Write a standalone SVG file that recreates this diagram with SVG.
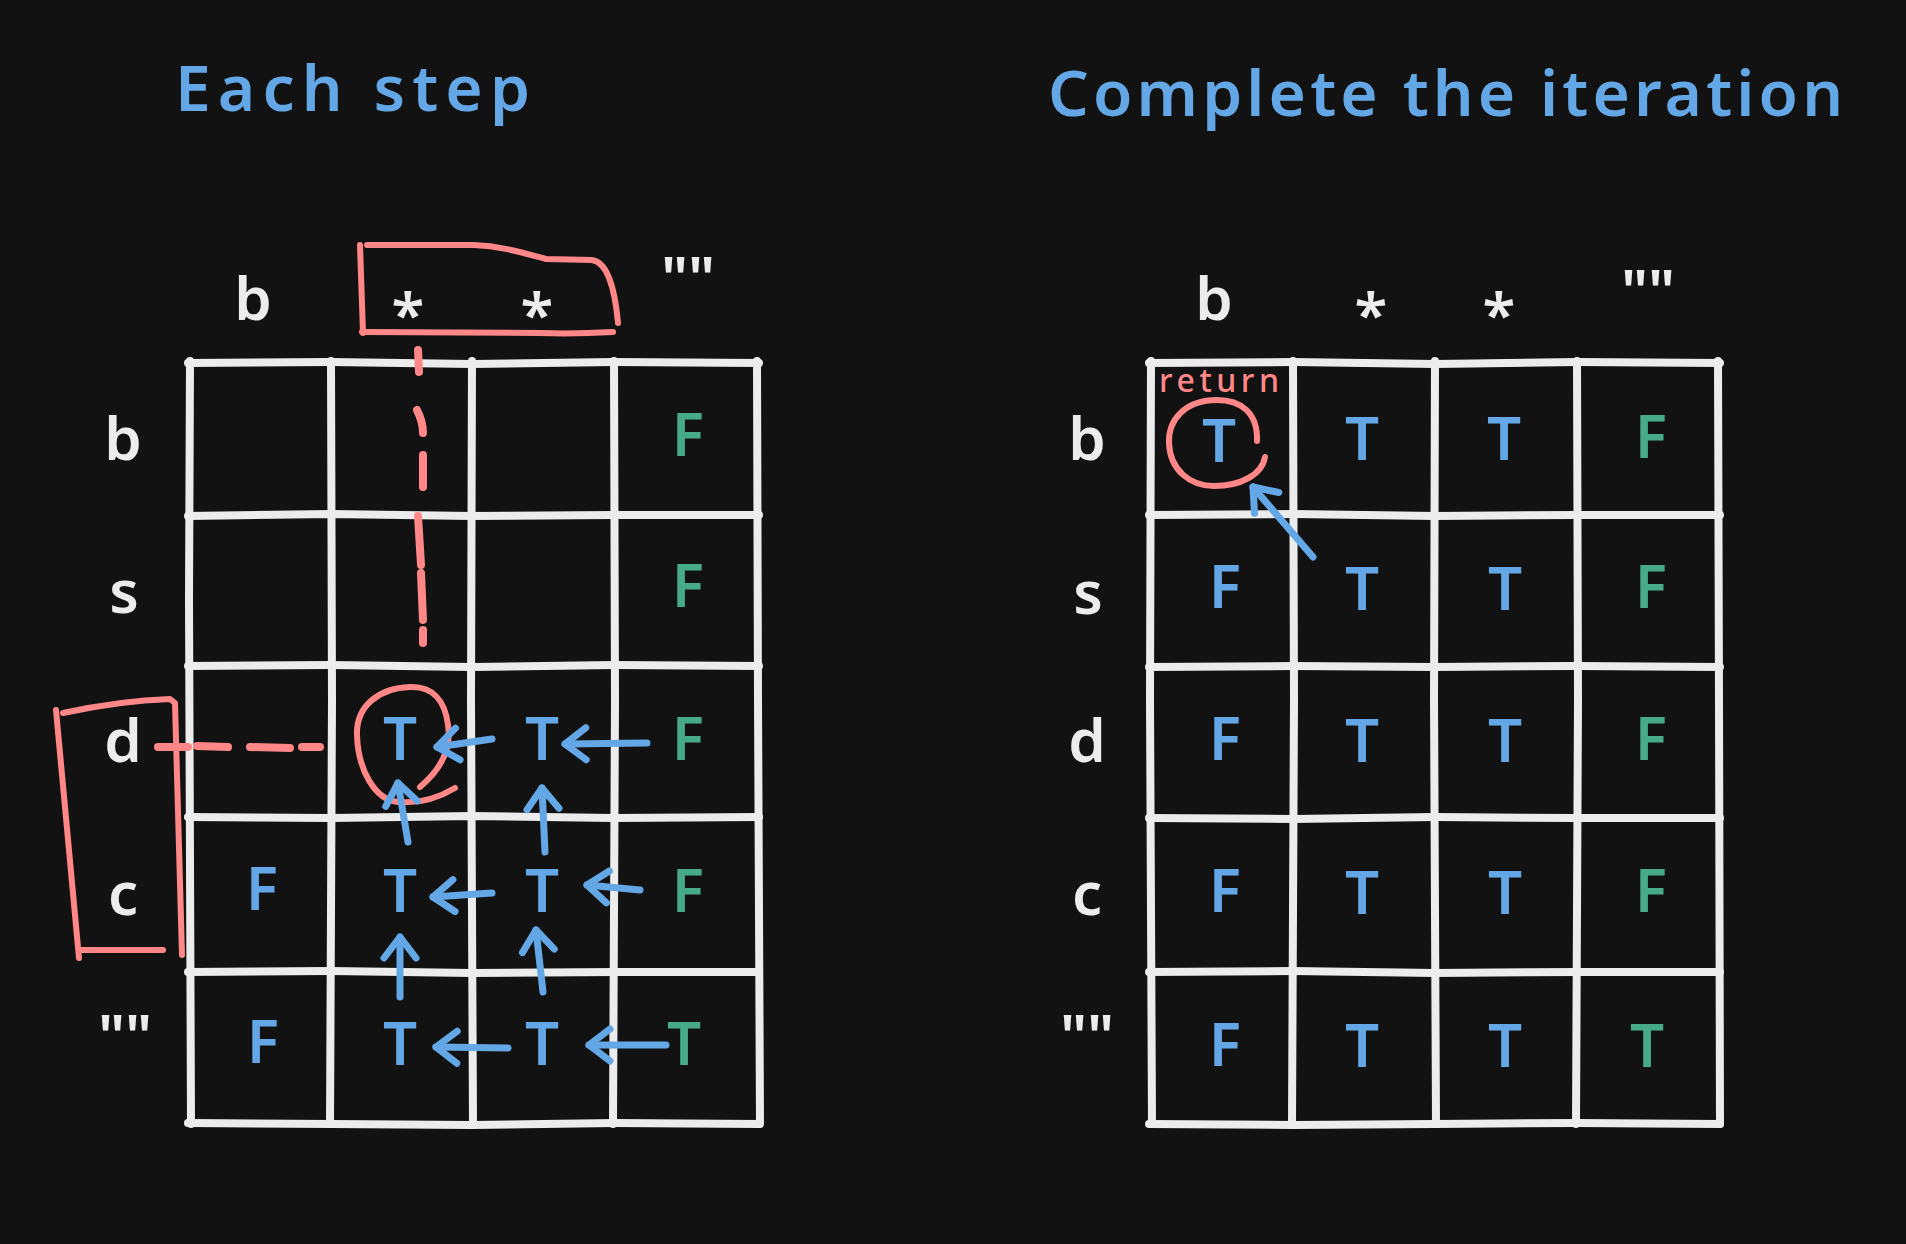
<svg xmlns="http://www.w3.org/2000/svg" width="1906" height="1244" viewBox="0 0 1906 1244">
<defs>
<style>
.bg{fill:#121212}
.grid{stroke:#ececec;stroke-width:8;stroke-linecap:round;stroke-linejoin:round;fill:none}
.red{stroke:#ff8787;fill:none;stroke-linecap:round;stroke-linejoin:round;stroke-width:6}
.dash{stroke:#ff8787;fill:none;stroke-linecap:round;stroke-width:8}
.arrow{stroke:#64a7e6;stroke-width:7;fill:none;stroke-linecap:round;marker-end:url(#ah)}
.lbl{font-family:"Noto Sans","DejaVu Sans",sans-serif;fill:#ececec;font-size:60px;font-weight:600;text-anchor:middle}
.title{font-family:"Noto Sans","DejaVu Sans",sans-serif;fill:#64a7e6;font-size:64px;font-weight:600}
.cell{font-family:"Noto Sans","DejaVu Sans",sans-serif;font-size:60px;font-weight:600;text-anchor:middle}
.b{fill:#64a7e6}
.g{fill:#47ab8a}
.ret{font-family:"Noto Sans","DejaVu Sans",sans-serif;fill:#ff8787;font-size:32px;font-weight:500}
</style>
<marker id="ah" viewBox="-30 -20 40 40" markerWidth="40" markerHeight="40" refX="0" refY="0" orient="auto" markerUnits="userSpaceOnUse" overflow="visible">
<path d="M-21,-16 L0,0 L-21,16" fill="none" stroke="#64a7e6" stroke-width="7" stroke-linecap="round" stroke-linejoin="round"/>
</marker>
</defs>
<rect class="bg" x="0" y="0" width="1906" height="1244"/>

<g id="title-left"><text class="title" x="175" y="111" textLength="355" lengthAdjust="spacing">Each step</text></g>
<g id="title-right"><text class="title" x="1048" y="116" textLength="795" lengthAdjust="spacing">Complete the iteration</text></g>

<g id="grid-left" class="grid">
<path d="M188,363 L331,362 L472,364 L614,362 L759,363"/>
<path d="M188,516 L331,514 L472,516 L614,515 L759,515"/>
<path d="M188,666 L331,665 L472,667 L614,665 L759,666"/>
<path d="M188,817 L331,818 L472,816 L614,818 L759,817"/>
<path d="M188,972 L331,971 L472,973 L614,972 L759,972"/>
<path d="M188,1123 L331,1124 L472,1125 L614,1123 L759,1124"/>
<path d="M190,361 L189,600 L191,1124"/>
<path d="M331,361 L332,700 L330,1124"/>
<path d="M472,361 L471,700 L473,1124"/>
<path d="M614,361 L615,700 L613,1124"/>
<path d="M757,361 L758,700 L760,1124"/>
</g>

<g id="grid-right" class="grid">
<path d="M1149,363 L1293,362 L1435,364 L1577,362 L1720,363"/>
<path d="M1149,515 L1293,514 L1435,516 L1577,515 L1720,515"/>
<path d="M1149,667 L1293,666 L1435,667 L1577,666 L1720,667"/>
<path d="M1149,818 L1293,819 L1435,817 L1577,818 L1720,818"/>
<path d="M1149,972 L1293,971 L1435,973 L1577,972 L1720,972"/>
<path d="M1149,1124 L1293,1125 L1435,1124 L1577,1123 L1720,1124"/>
<path d="M1151,361 L1150,700 L1152,1124"/>
<path d="M1293,361 L1294,700 L1292,1124"/>
<path d="M1435,361 L1434,700 L1436,1124"/>
<path d="M1577,361 L1578,700 L1576,1124"/>
<path d="M1718,361 L1719,700 L1720,1124"/>
</g>

<g id="labels-left">
<text class="lbl" x="253" y="320">b</text>
<text class="lbl" x="408" y="336">*</text>
<text class="lbl" x="537" y="336">*</text>
<text class="lbl" x="688" y="300">""</text>
<text class="lbl" x="123" y="460">b</text>
<text class="lbl" x="124" y="613">s</text>
<text class="lbl" x="123" y="762">d</text>
<text class="lbl" x="123" y="915">c</text>
<text class="lbl" x="125" y="1058">""</text>
</g>

<g id="labels-right">
<text class="lbl" x="1214" y="320">b</text>
<text class="lbl" x="1371" y="336">*</text>
<text class="lbl" x="1499" y="336">*</text>
<text class="lbl" x="1648" y="313">""</text>
<text class="lbl" x="1087" y="460">b</text>
<text class="lbl" x="1088" y="614">s</text>
<text class="lbl" x="1087" y="762">d</text>
<text class="lbl" x="1087" y="915">c</text>
<text class="lbl" x="1087" y="1058">""</text>
</g>

<g id="cells-left" class="cell">
<text class="g" x="688" y="456">F</text>
<text class="g" x="688" y="607">F</text>
<text class="b" x="400" y="760">T</text>
<text class="b" x="542" y="760">T</text>
<text class="g" x="688" y="760">F</text>
<text class="b" x="262" y="910">F</text>
<text class="b" x="400" y="912">T</text>
<text class="b" x="542" y="912">T</text>
<text class="g" x="688" y="912">F</text>
<text class="b" x="263" y="1063">F</text>
<text class="b" x="400" y="1065">T</text>
<text class="b" x="542" y="1065">T</text>
<text class="g" x="684" y="1065">T</text>
</g>

<g id="cells-right" class="cell">
<text class="b" x="1219" y="462">T</text>
<text class="b" x="1362" y="460">T</text>
<text class="b" x="1504" y="460">T</text>
<text class="g" x="1651" y="458">F</text>
<text class="b" x="1225" y="608">F</text>
<text class="b" x="1362" y="610">T</text>
<text class="b" x="1505" y="610">T</text>
<text class="g" x="1651" y="608">F</text>
<text class="b" x="1225" y="760">F</text>
<text class="b" x="1362" y="762">T</text>
<text class="b" x="1505" y="762">T</text>
<text class="g" x="1651" y="760">F</text>
<text class="b" x="1225" y="912">F</text>
<text class="b" x="1362" y="914">T</text>
<text class="b" x="1505" y="914">T</text>
<text class="g" x="1651" y="912">F</text>
<text class="b" x="1225" y="1066">F</text>
<text class="b" x="1362" y="1067">T</text>
<text class="b" x="1505" y="1067">T</text>
<text class="g" x="1647" y="1067">T</text>
</g>

<g id="highlight-cols">
<path class="red" d="M360,245 L363,333"/>
<path class="red" d="M367,245 L474,245 C500,246 520,252 546,259 L592,260 C605,262 614,280 618,323"/>
<path class="red" d="M362,332 L540,333 C570,334 595,333 613,332" stroke-width="7"/>
</g>

<g id="highlight-rows">
<path class="red" d="M56,710 L79,958"/>
<path class="red" d="M63,713 C100,705 140,700 170,699 L175,703 L182,955"/>
<path class="red" d="M80,950 L163,950" stroke-width="7"/>
</g>

<g id="highlight-cell-left">
<path class="red" stroke-width="7" d="M420,787 C440,770 452,750 448,725 C445,700 432,686 410,687 C380,688 356,705 357,735 C358,770 375,800 398,802 C420,804 440,797 455,788"/>
</g>

<g id="result-right">
<path class="red" stroke-width="7" d="M1257,441 C1258,412 1240,400 1217,400 C1185,400 1168,420 1169,443 C1170,470 1190,486 1214,486 C1240,486 1262,475 1265,457"/>
<text class="ret" x="1159" y="392" textLength="120" lengthAdjust="spacing">return</text>
</g>

<g id="connectors">
<path class="dash" d="M418,350 L419,372"/>
<path class="dash" d="M417,410 C421,418 423,425 423,433"/>
<path class="dash" d="M423,455 L423,487"/>
<path class="dash" stroke-width="5" d="M418,516 L421,565"/>
<path class="dash" stroke-width="5" d="M421,573 L423,620"/>
<path class="dash" d="M423,630 L423,643"/>
<path class="dash" d="M158,747 L188,747"/>
<path class="dash" d="M197,746 L228,747"/>
<path class="dash" d="M250,747 L290,748"/>
<path class="dash" d="M302,747 L320,747"/>
<path class="arrow" d="M647,743 L565,744"/>
<path class="arrow" d="M492,739 L437,747"/>
<path class="arrow" d="M408,842 L398,783"/>
<path class="arrow" d="M545,852 L542,788"/>
<path class="arrow" d="M640,890 L587,885"/>
<path class="arrow" stroke-width="9" d="M492,893 L433,897"/>
<path class="arrow" d="M400,997 L400,937"/>
<path class="arrow" d="M543,992 L536,930"/>
<path class="arrow" d="M666,1045 L589,1045"/>
<path class="arrow" d="M508,1048 L436,1047"/>
<path class="arrow" d="M1313,557 L1253,487"/>
</g>
</svg>
